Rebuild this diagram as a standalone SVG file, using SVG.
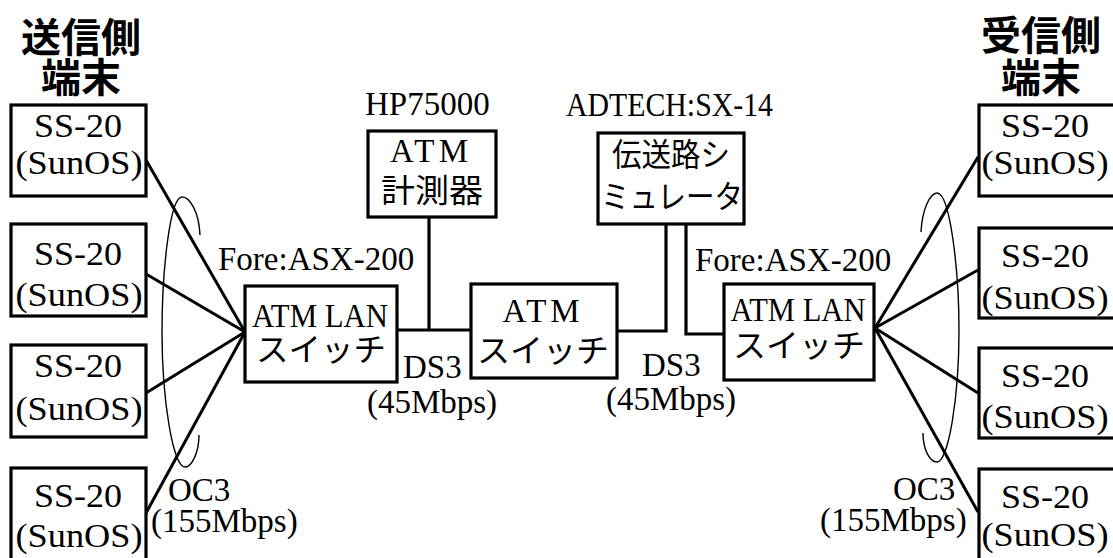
<svg xmlns="http://www.w3.org/2000/svg" width="1113" height="558" viewBox="0 0 1113 558">
<style>
.box{fill:#fff;stroke:#000;stroke-width:3.2}
.ln{fill:none;stroke:#000;stroke-width:3.2}
.fan{fill:none;stroke:#000;stroke-width:3}
.ell{fill:none;stroke:#000;stroke-width:1.4}
.t{font-family:"Liberation Serif","Times New Roman",serif;font-size:33px;fill:#000}
.j{font-family:"Noto Sans CJK JP","Noto Sans",sans-serif;font-size:32px;fill:#000}
.h{font-family:"Noto Sans CJK JP","Noto Sans",sans-serif;font-size:40px;font-weight:700;fill:#000;text-anchor:middle}
.m{text-anchor:middle}
</style>
<rect width="1113" height="558" fill="#fff"/>
<g id="connectors">
<line class="ln" x1="429" y1="217" x2="429" y2="330"/>
<line class="ln" x1="397" y1="330" x2="471" y2="330"/>
<polyline class="ln" points="617,331 666,331 666,224"/>
<polyline class="ln" points="686,224 686,334 724,334"/>
<line class="fan" x1="146" y1="160" x2="245" y2="332"/>
<line class="fan" x1="146" y1="274" x2="245" y2="332"/>
<line class="fan" x1="146" y1="393" x2="245" y2="332"/>
<line class="fan" x1="146" y1="513" x2="245" y2="332"/>
<line class="fan" x1="875" y1="328" x2="978" y2="157"/>
<line class="fan" x1="875" y1="328" x2="978" y2="270"/>
<line class="fan" x1="875" y1="328" x2="978" y2="393"/>
<line class="fan" x1="875" y1="328" x2="978" y2="512"/>
<path class="ell" d="M200,235 C199,212 190,197 182,197 C170,197 162,270 162,332 C162,400 173,467 185,467 C192,467 199,452 199,435"/>
<path class="ell" d="M921,232 C922,210 930,193 937,193 C950,193 959,270 959,330 C959,400 948,462 937,462 C930,462 923,450 923,433"/>
</g>
<g id="title-send">
<text class="h"><tspan x="81" y="52">送信側</tspan><tspan x="81" y="92">端末</tspan></text>
</g>
<g id="title-recv">
<text class="h"><tspan x="1041" y="50">受信側</tspan><tspan x="1041" y="92">端末</tspan></text>
</g>
<g id="send1">
<rect class="box" x="11" y="105" width="135" height="91"/>
<text class="t m" x="78" y="137" textLength="88" lengthAdjust="spacingAndGlyphs">SS-20</text>
<text class="t m" x="79" y="174" textLength="127" lengthAdjust="spacingAndGlyphs">(SunOS)</text>
</g>
<g id="send2">
<rect class="box" x="11" y="224" width="135" height="92"/>
<text class="t m" x="78" y="265" textLength="88" lengthAdjust="spacingAndGlyphs">SS-20</text>
<text class="t m" x="79" y="306" textLength="127" lengthAdjust="spacingAndGlyphs">(SunOS)</text>
</g>
<g id="send3">
<rect class="box" x="11" y="345" width="135" height="92"/>
<text class="t m" x="78" y="377" textLength="88" lengthAdjust="spacingAndGlyphs">SS-20</text>
<text class="t m" x="79" y="420" textLength="127" lengthAdjust="spacingAndGlyphs">(SunOS)</text>
</g>
<g id="send4">
<rect class="box" x="11" y="468" width="135" height="100"/>
<text class="t m" x="78" y="507" textLength="88" lengthAdjust="spacingAndGlyphs">SS-20</text>
<text class="t m" x="79" y="547" textLength="127" lengthAdjust="spacingAndGlyphs">(SunOS)</text>
</g>
<g id="recv1">
<rect class="box" x="979" y="105" width="140" height="91"/>
<text class="t m" x="1045" y="137" textLength="88" lengthAdjust="spacingAndGlyphs">SS-20</text>
<text class="t m" x="1045" y="174" textLength="127" lengthAdjust="spacingAndGlyphs">(SunOS)</text>
</g>
<g id="recv2">
<rect class="box" x="979" y="228" width="140" height="90"/>
<text class="t m" x="1045" y="267" textLength="88" lengthAdjust="spacingAndGlyphs">SS-20</text>
<text class="t m" x="1045" y="309" textLength="127" lengthAdjust="spacingAndGlyphs">(SunOS)</text>
</g>
<g id="recv3">
<rect class="box" x="979" y="348" width="140" height="90"/>
<text class="t m" x="1045" y="387" textLength="88" lengthAdjust="spacingAndGlyphs">SS-20</text>
<text class="t m" x="1045" y="428" textLength="127" lengthAdjust="spacingAndGlyphs">(SunOS)</text>
</g>
<g id="recv4">
<rect class="box" x="979" y="469" width="140" height="100"/>
<text class="t m" x="1045" y="508" textLength="88" lengthAdjust="spacingAndGlyphs">SS-20</text>
<text class="t m" x="1045" y="546" textLength="127" lengthAdjust="spacingAndGlyphs">(SunOS)</text>
</g>
<g id="lan-switch-left">
<text class="t" x="218" y="270">Fore:ASX-200</text>
<rect class="box" x="245" y="286" width="152" height="96"/>
<text class="t m" x="320" y="327" textLength="136" lengthAdjust="spacingAndGlyphs">ATM LAN</text>
<text class="j m" x="321" y="361" textLength="130" lengthAdjust="spacingAndGlyphs">スイッチ</text>
</g>
<g id="atm-switch">
<rect class="box" x="471" y="284" width="146" height="94"/>
<text class="t m" x="541" y="322" textLength="77" lengthAdjust="spacing">ATM</text>
<text class="j m" x="543" y="362" textLength="132" lengthAdjust="spacingAndGlyphs">スイッチ</text>
</g>
<g id="lan-switch-right">
<text class="t" x="695" y="271">Fore:ASX-200</text>
<rect class="box" x="724" y="284" width="150" height="96"/>
<text class="t m" x="798" y="321" textLength="135" lengthAdjust="spacingAndGlyphs">ATM LAN</text>
<text class="j m" x="799" y="357" textLength="132" lengthAdjust="spacingAndGlyphs">スイッチ</text>
</g>
<g id="atm-meter">
<text class="t" x="365" y="115">HP75000</text>
<rect class="box" x="368" y="131" width="128" height="86"/>
<text class="t m" x="429" y="162" textLength="78" lengthAdjust="spacing">ATM</text>
<text class="j m" x="432" y="202" textLength="102" lengthAdjust="spacingAndGlyphs">計測器</text>
</g>
<g id="line-simulator">
<text class="t" x="566" y="116" textLength="207" lengthAdjust="spacingAndGlyphs">ADTECH:SX-14</text>
<rect class="box" x="598" y="133" width="146" height="91"/>
<text class="j m" x="671" y="166" textLength="118" lengthAdjust="spacingAndGlyphs">伝送路シ</text>
<text class="j m" x="672" y="208" textLength="142" lengthAdjust="spacingAndGlyphs">ミュレータ</text>
</g>
<g id="labels">
<text class="t" x="403" y="378">DS3</text>
<text class="t m" x="432" y="413">(45Mbps)</text>
<text class="t" x="642" y="376">DS3</text>
<text class="t m" x="671" y="410">(45Mbps)</text>
<text class="t" x="168" y="501">OC3</text>
<text class="t" x="151" y="532">(155Mbps)</text>
<text class="t" x="893" y="500">OC3</text>
<text class="t" x="820" y="531">(155Mbps)</text>
</g>
</svg>
